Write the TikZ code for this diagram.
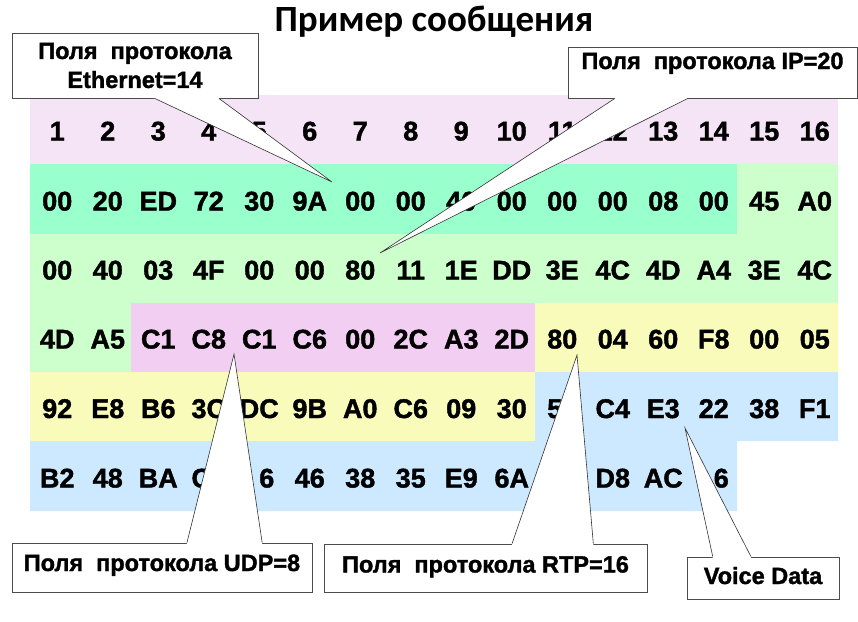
\documentclass[tikz,border=0pt]{standalone}
\usepackage{fontspec}
\setmainfont{Liberation Sans}
\newfontfamily\headfont{Carlito}
\newfontfamily\cellfont{Liberation Sans Bold}[FakeBold=1.5]
\usetikzlibrary{calc}

\definecolor{hdrpink}{RGB}{245,228,245}
\definecolor{ethgreen}{RGB}{153,255,204}
\definecolor{ipgreen}{RGB}{204,255,204}
\definecolor{udppink}{RGB}{242,206,242}
\definecolor{rtpyellow}{RGB}{248,251,185}
\definecolor{voiceblue}{RGB}{204,233,255}

\begin{document}
\begin{tikzpicture}[
    x=1pt,y=-1pt,
    cell/.style={inner sep=0pt, text height=19pt, text depth=0pt, font=\cellfont\fontsize{27}{27}\selectfont},
    callout/.style={draw=black!70, fill=white, line width=0.8pt, inner sep=0pt, align=center, font=\cellfont\fontsize{23.5}{29}\selectfont},
    pointer/.style={draw=black!80, line width=0.6pt}
  ]
    \useasboundingbox (0,0) rectangle (858,621);
    \node[font=\headfont\fontsize{37}{37}\selectfont\bfseries] (title) at (434,22) {Пример сообщения};

    % colour bands of the packet
    \fill[hdrpink] (30,95) rectangle (838,164);
    \fill[ipgreen] (30,164) rectangle (838,372);
    \fill[ethgreen] (30,164) rectangle (737,234);
    \fill[udppink] (131,303) rectangle (535,372);
    \fill[rtpyellow] (535,303) rectangle (838,372) (30,372) rectangle (535,441);
    \fill[voiceblue] (535,372) rectangle (838,441) (30,441) rectangle (737,511);

    % bytes, row by row
    \foreach \t [count=\k] in {1,...,16}
      \node[cell] (r0-\k) at ({32+(\k-0.5)*50.5},131) {\t};
    \foreach \t [count=\k] in {00,20,ED,72,30,9A,00,00,40,00,00,00,08,00,45,A0}
      \node[cell] (r1-\k) at ({32+(\k-0.5)*50.5},201) {\t};
    \foreach \t [count=\k] in {00,40,03,4F,00,00,80,11,1E,DD,3E,4C,4D,A4,3E,4C}
      \node[cell] (r2-\k) at ({32+(\k-0.5)*50.5},270) {\t};
    \foreach \t [count=\k] in {4D,A5,C1,C8,C1,C6,00,2C,A3,2D,80,04,60,F8,00,05}
      \node[cell] (r3-\k) at ({32+(\k-0.5)*50.5},339) {\t};
    \foreach \t [count=\k] in {92,E8,B6,3C,DC,9B,A0,C6,09,30,5\phantom{0},C4,E3,22,38,F1}
      \node[cell] (r4-\k) at ({32+(\k-0.5)*50.5},408.5) {\t};
    \foreach \t [count=\k] in {B2,48,BA,C\phantom{0},\phantom{0}6,46,38,35,E9,6A,{},D8,AC,\phantom{0}6}
      \node[cell] (r5-\k) at ({32+(\k-0.5)*50.5},478) {\t};

    % Ethernet
    \node[callout, minimum width=246pt, minimum height=65pt] (eth) at (135,65.5) {Поля~ протокола\\Ethernet=14};
    \coordinate (eth-tip) at (332,182);
    \coordinate (eth-a) at ($(eth.south west)!0.58!(eth.south east)$);
    \coordinate (eth-b) at ($(eth.south west)!0.84!(eth.south east)$);
    \fill[white] ($(eth-a)+(0,-1.5)$) -- (eth-a) -- (eth-tip) -- (eth-b) -- ($(eth-b)+(0,-1.5)$) -- cycle;
    \draw[pointer] (eth-a) -- (eth-tip) -- (eth-b);

    % IP
    \node[callout, minimum width=289pt, minimum height=51pt, text height=16pt, text depth=23pt] (ip) at (712.5,72.5) {Поля~ протокола IP=20};
    \coordinate (ip-tip) at (380,253);
    \coordinate (ip-a) at ($(ip.south west)!0.163!(ip.south east)$);
    \coordinate (ip-b) at ($(ip.south west)!0.415!(ip.south east)$);
    \fill[white] ($(ip-a)+(0,-1.5)$) -- (ip-a) -- (ip-tip) -- (ip-b) -- ($(ip-b)+(0,-1.5)$) -- cycle;
    \draw[pointer] (ip-a) -- (ip-tip) -- (ip-b);

    % UDP
    \node[callout, minimum width=300pt, minimum height=49pt, text height=16pt, text depth=9pt] (udp) at (162,567.5) {Поля~ протокола UDP=8};
    \coordinate (udp-tip) at (234,354);
    \coordinate (udp-a) at ($(udp.north west)!0.583!(udp.north east)$);
    \coordinate (udp-b) at ($(udp.north west)!0.833!(udp.north east)$);
    \fill[white] ($(udp-a)+(0,1.5)$) -- (udp-a) -- (udp-tip) -- (udp-b) -- ($(udp-b)+(0,1.5)$) -- cycle;
    \draw[pointer] (udp-a) -- (udp-tip) -- (udp-b);

    % RTP
    \node[callout, minimum width=323pt, minimum height=48pt, text height=16pt, text depth=7pt] (rtp) at (485.5,568) {Поля~ протокола RTP=16};
    \coordinate (rtp-tip) at (577,355);
    \coordinate (rtp-a) at ($(rtp.north west)!0.582!(rtp.north east)$);
    \coordinate (rtp-b) at ($(rtp.north west)!0.833!(rtp.north east)$);
    \fill[white] ($(rtp-a)+(0,1.5)$) -- (rtp-a) -- (rtp-tip) -- (rtp-b) -- ($(rtp-b)+(0,1.5)$) -- cycle;
    \draw[pointer] (rtp-a) -- (rtp-tip) -- (rtp-b);

    % voice payload
    \node[callout, minimum width=152pt, minimum height=42pt, text height=16pt, text depth=4pt] (voice) at (763,578) {Voice Data};
    \coordinate (voice-tip) at (685,428);
    \coordinate (voice-a) at ($(voice.north west)!0.171!(voice.north east)$);
    \coordinate (voice-b) at ($(voice.north west)!0.421!(voice.north east)$);
    \fill[white] ($(voice-a)+(0,1.5)$) -- (voice-a) -- (voice-tip) -- (voice-b) -- ($(voice-b)+(0,1.5)$) -- cycle;
    \draw[pointer] (voice-a) -- (voice-tip) -- (voice-b);
  \end{tikzpicture}
\end{document}
